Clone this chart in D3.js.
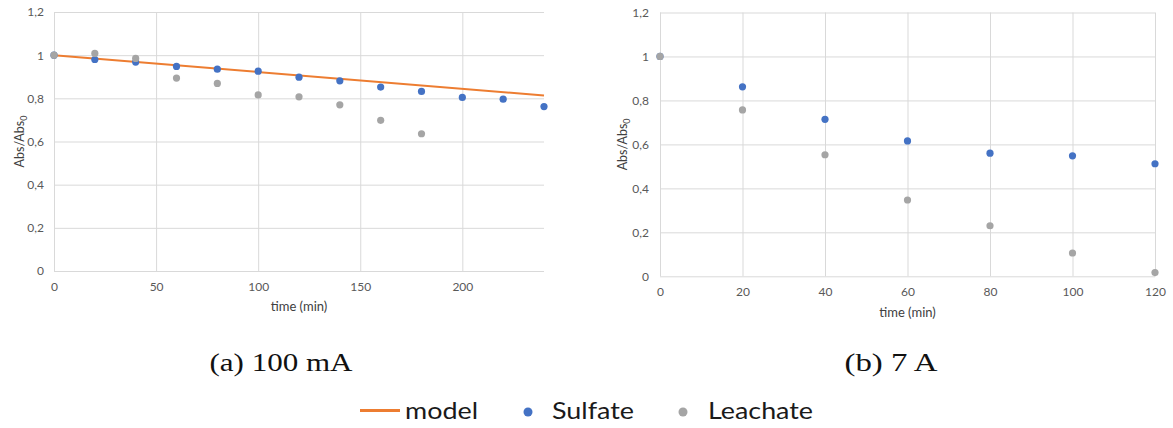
<!DOCTYPE html>
<html>
<head>
<meta charset="utf-8">
<script src="https://cdn.jsdelivr.net/npm/d3@7"></script>
<style>
  body { margin: 0; background: #fff; }
  svg { display: block; }
  .tick text { font-family: Lato, "Open Sans", sans-serif; font-size: 12px; fill: #595959; }
</style>
</head>
<body>
<svg id="chart" width="1173" height="428"></svg>
<script>
// values
const yTicks = [0, 0.2, 0.4, 0.6, 0.8, 1, 1.2];

const timeA = [0, 20, 40, 60, 80, 100, 120, 140, 160, 180, 200, 220, 240];
const sulfateA = [1.0, 0.98, 0.968, 0.948, 0.935, 0.926, 0.898, 0.881, 0.852, 0.832, 0.804, 0.796, 0.762];
const leachTimeA = [0, 20, 40, 60, 80, 100, 120, 140, 160, 180];
const leachateA = [1.0, 1.008, 0.985, 0.894, 0.869, 0.816, 0.807, 0.77, 0.698, 0.636];
const modelTimeA = [0, 240];
const modelA = [1.0, 0.813];
const xTicksA = [0, 50, 100, 150, 200];

const timeB = [0, 20, 40, 60, 80, 100, 120];
const sulfateB = [1.0, 0.862, 0.714, 0.616, 0.56, 0.548, 0.512];
const leachateB = [1.0, 0.757, 0.553, 0.347, 0.23, 0.106, 0.017];
const xTicksB = [0, 20, 40, 60, 80, 100, 120];

const blue = "#4472c4", grey = "#a5a5a5", orange = "#ed7d31", gridCol = "#d9d9d9";
const comma = d => String(d).replace(".", ",");

const svg = d3.select("#chart");

function panel(o) {
  const x = d3.scaleLinear().domain(o.xDomain).range(o.xRange);
  const y = d3.scaleLinear().domain([0, 1.2]).range(o.yRange);
  const g = svg.append("g");

  // horizontal grid + y labels
  g.append("g")
    .attr("transform", `translate(${o.xRange[0]},0)`)
    .call(d3.axisLeft(y).tickValues(yTicks).tickFormat(comma)
      .tickSize(-(o.xRange[1] - o.xRange[0])).tickPadding(o.yPad))
    .call(a => a.select(".domain").remove())
    .call(a => a.selectAll("line").attr("stroke", gridCol));

  // vertical grid + x labels
  g.append("g")
    .attr("transform", `translate(0,${o.yRange[0]})`)
    .call(d3.axisBottom(x).tickValues(o.xTicks).tickFormat(d3.format("d"))
      .tickSize(-(o.yRange[0] - o.yRange[1])).tickPadding(11))
    .call(a => a.select(".domain").remove())
    .call(a => a.selectAll("line").attr("stroke", gridCol));

  if (o.model) {
    g.append("path")
      .datum(o.model.t.map((t, i) => [t, o.model.v[i]]))
      .attr("fill", "none").attr("stroke", orange).attr("stroke-width", 2)
      .attr("d", d3.line().x(d => x(d[0])).y(d => y(d[1])));
  }

  o.series.forEach(s => {
    g.append("g").selectAll("circle")
      .data(s.t.map((t, i) => [t, s.v[i]]))
      .join("circle")
      .attr("cx", d => x(d[0])).attr("cy", d => y(d[1]))
      .attr("r", 3.6).attr("fill", s.color);
  });

  // axis titles
  g.append("text")
    .attr("x", (o.xRange[0] + o.xRange[1]) / 2).attr("y", o.xTitleY)
    .attr("text-anchor", "middle")
    .style("font-family", "Lato, sans-serif").style("font-size", "13px").style("fill", "#404040")
    .text("time (min)");

  const yt = g.append("text")
    .attr("transform", `translate(${o.yTitleX},${(o.yRange[0] + o.yRange[1]) / 2}) rotate(-90)`)
    .attr("text-anchor", "middle")
    .style("font-family", "Lato, sans-serif").style("font-size", "12.5px").style("fill", "#404040");
  yt.append("tspan").text("Abs/Abs");
  yt.append("tspan").attr("dy", 3).style("font-size", "9px").text("0");

  svg.append("text")
    .attr("x", o.capX).attr("y", 371)
    .attr("text-anchor", "middle")
    .attr("textLength", o.capW).attr("lengthAdjust", "spacingAndGlyphs")
    .style("font-family", "'Liberation Serif', 'DejaVu Serif', serif").style("font-size", "25px").style("fill", "#111")
    .text(o.caption);
}

panel({
  xDomain: [0, 240], xRange: [54, 544], yRange: [271, 12], yPad: 10,
  xTicks: xTicksA, xTitleY: 311, yTitleX: 24, capX: 281, capW: 143, caption: "(a) 100 mA",
  model: { t: modelTimeA, v: modelA },
  series: [
    { t: timeA, v: sulfateA, color: blue },
    { t: leachTimeA, v: leachateA, color: grey }
  ]
});

panel({
  xDomain: [0, 120], xRange: [660, 1155], yRange: [276.3, 12.5], yPad: 11,
  xTicks: xTicksB, xTitleY: 317, yTitleX: 627, capX: 891, capW: 93, caption: "(b) 7 A",
  series: [
    { t: timeB, v: sulfateB, color: blue },
    { t: timeB, v: leachateB, color: grey }
  ]
});

// legend
const leg = svg.append("g").style("font-family", "Lato, 'Open Sans', sans-serif").style("font-size", "24px").style("fill", "#1a1a1a");
leg.append("line").attr("x1", 360).attr("x2", 400).attr("y1", 410.5).attr("y2", 410.5)
  .attr("stroke", orange).attr("stroke-width", 3);
leg.append("text").attr("x", 405).attr("y", 419).attr("textLength", 73).attr("lengthAdjust", "spacingAndGlyphs").text("model");
leg.append("circle").attr("cx", 528).attr("cy", 412).attr("r", 4.5).attr("fill", blue);
leg.append("text").attr("x", 552).attr("y", 419).attr("textLength", 82).attr("lengthAdjust", "spacingAndGlyphs").text("Sulfate");
leg.append("circle").attr("cx", 683).attr("cy", 412).attr("r", 4.5).attr("fill", grey);
leg.append("text").attr("x", 708).attr("y", 419).attr("textLength", 105).attr("lengthAdjust", "spacingAndGlyphs").text("Leachate");
</script>
</body>
</html>
